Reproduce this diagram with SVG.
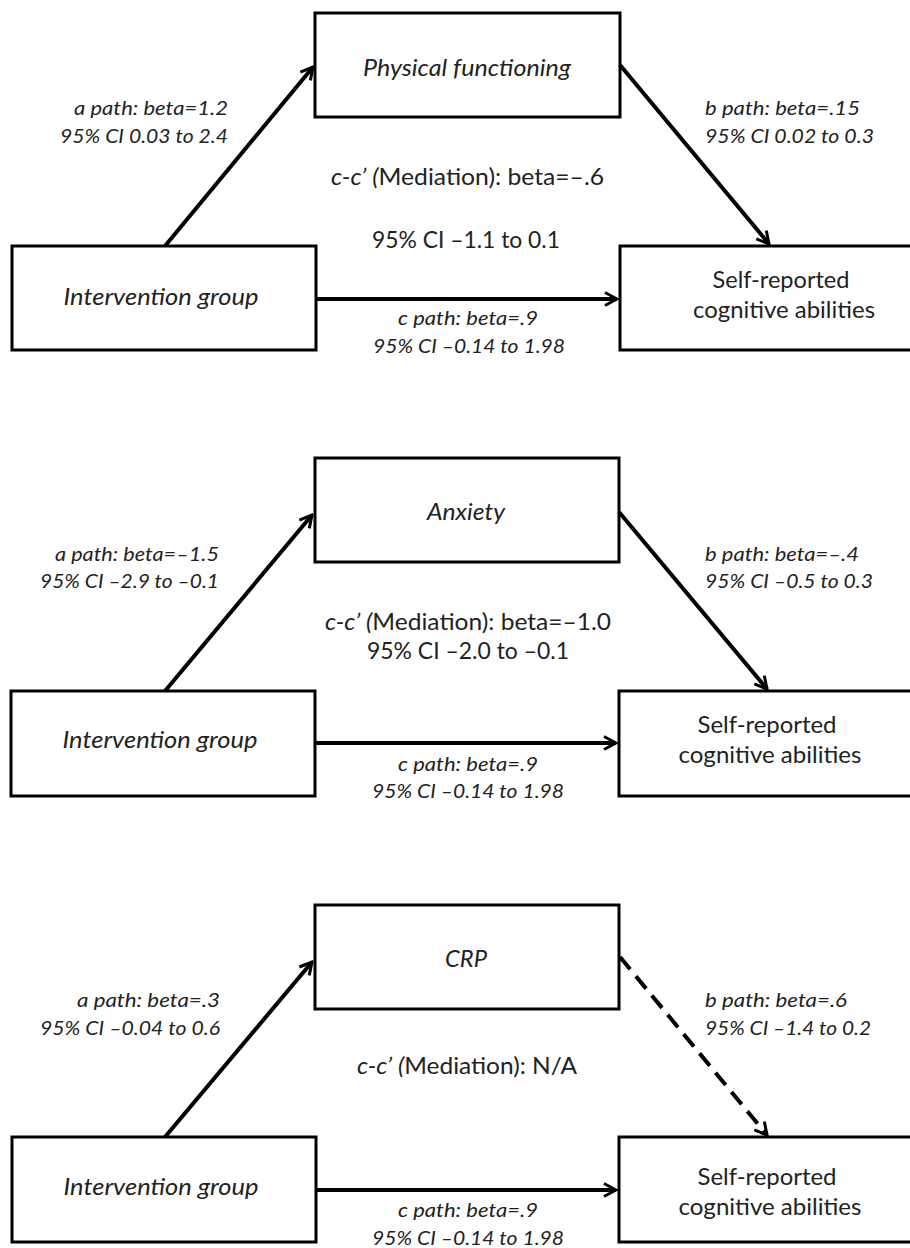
<svg xmlns="http://www.w3.org/2000/svg" width="910" height="1248" viewBox="0 0 910 1248">
<style>
  .box{fill:#fff;stroke:#000;stroke-width:3}
  .edge{stroke:#000;stroke-width:4;fill:none}
  .dash{stroke-dasharray:16 9}
  .lbl{font-family:Lato,"Open Sans","Liberation Sans",sans-serif;font-style:italic;font-size:19px;fill:#222}
  .big{font-family:Lato,"Open Sans","Liberation Sans",sans-serif;font-size:23px;fill:#222}
  .it{font-style:italic}
  .mid{text-anchor:middle}
</style>
<defs>
  <marker id="arr" viewBox="0 0 16 16" refX="14" refY="8" markerWidth="16" markerHeight="16" orient="auto" markerUnits="userSpaceOnUse">
    <path d="M2,1.5 L14,8 L2,14.5" fill="none" stroke="#000" stroke-width="3"/>
  </marker>
</defs>
<rect width="910" height="1248" fill="#fff"/>

<!-- Panel 1 -->
<g id="p1-mediator">
  <rect class="box" x="315" y="13" width="305" height="104"/>
  <text class="big it mid" x="467" y="76" textLength="208" lengthAdjust="spacingAndGlyphs">Physical functioning</text>
</g>
<g id="p1-intervention">
  <rect class="box" x="12" y="246" width="304" height="104"/>
  <text class="big it mid" x="161" y="305" textLength="195" lengthAdjust="spacingAndGlyphs">Intervention group</text>
</g>
<g id="p1-outcome">
  <rect class="box" x="620" y="246" width="330" height="104"/>
  <text class="big mid" x="781" y="288" textLength="137" lengthAdjust="spacingAndGlyphs">Self-reported</text>
  <text class="big mid" x="784" y="318" textLength="182" lengthAdjust="spacingAndGlyphs">cognitive abilities</text>
</g>
<g id="p1-connectors">
  <line class="edge" x1="165" y1="246" x2="313" y2="67" marker-end="url(#arr)"/>
  <line class="edge" x1="620" y1="65" x2="769" y2="244" marker-end="url(#arr)"/>
  <line class="edge" x1="316" y1="299" x2="617" y2="299" marker-end="url(#arr)"/>
</g>
<g id="p1-labels">
  <text class="lbl" x="74" y="115" textLength="154" lengthAdjust="spacingAndGlyphs">a path: beta=1.2</text>
  <text class="lbl" x="60" y="143" textLength="168" lengthAdjust="spacingAndGlyphs">95% CI 0.03 to 2.4</text>
  <text class="lbl" x="705" y="115" textLength="155" lengthAdjust="spacingAndGlyphs">b path: beta=.15</text>
  <text class="lbl" x="705" y="143" textLength="169" lengthAdjust="spacingAndGlyphs">95% CI 0.02 to 0.3</text>
  <text class="big" x="331" y="185" textLength="273" lengthAdjust="spacingAndGlyphs"><tspan class="it">c-c’ (</tspan>Mediation): beta=–.6</text>
  <text class="big" x="372" y="248" textLength="188" lengthAdjust="spacingAndGlyphs">95% CI –1.1 to 0.1</text>
  <text class="lbl" x="398" y="325" textLength="140" lengthAdjust="spacingAndGlyphs">c path: beta=.9</text>
  <text class="lbl" x="373" y="353" textLength="192" lengthAdjust="spacingAndGlyphs">95% CI –0.14 to 1.98</text>
</g>

<!-- Panel 2 -->
<g id="p2-mediator">
  <rect class="box" x="315" y="458" width="304" height="104"/>
  <text class="big it mid" x="466" y="520" textLength="78" lengthAdjust="spacingAndGlyphs">Anxiety</text>
</g>
<g id="p2-intervention">
  <rect class="box" x="11" y="691" width="304" height="105"/>
  <text class="big it mid" x="160" y="748" textLength="195" lengthAdjust="spacingAndGlyphs">Intervention group</text>
</g>
<g id="p2-outcome">
  <rect class="box" x="619" y="691" width="330" height="105"/>
  <text class="big mid" x="767" y="733" textLength="139" lengthAdjust="spacingAndGlyphs">Self-reported</text>
  <text class="big mid" x="770" y="763" textLength="183" lengthAdjust="spacingAndGlyphs">cognitive abilities</text>
</g>
<g id="p2-connectors">
  <line class="edge" x1="165" y1="691" x2="312" y2="515" marker-end="url(#arr)"/>
  <line class="edge" x1="619" y1="512" x2="767" y2="689" marker-end="url(#arr)"/>
  <line class="edge" x1="315" y1="743" x2="616" y2="743" marker-end="url(#arr)"/>
</g>
<g id="p2-labels">
  <text class="lbl" x="55" y="561" textLength="164" lengthAdjust="spacingAndGlyphs">a path: beta=–1.5</text>
  <text class="lbl" x="40" y="588" textLength="179" lengthAdjust="spacingAndGlyphs">95% CI –2.9 to –0.1</text>
  <text class="lbl" x="705" y="561" textLength="154" lengthAdjust="spacingAndGlyphs">b path: beta=–.4</text>
  <text class="lbl" x="705" y="588" textLength="168" lengthAdjust="spacingAndGlyphs">95% CI –0.5 to 0.3</text>
  <text class="big" x="325" y="630" textLength="286" lengthAdjust="spacingAndGlyphs"><tspan class="it">c-c’ (</tspan>Mediation): beta=–1.0</text>
  <text class="big" x="367" y="659" textLength="202" lengthAdjust="spacingAndGlyphs">95% CI –2.0 to –0.1</text>
  <text class="lbl" x="398" y="771" textLength="140" lengthAdjust="spacingAndGlyphs">c path: beta=.9</text>
  <text class="lbl" x="372" y="798" textLength="192" lengthAdjust="spacingAndGlyphs">95% CI –0.14 to 1.98</text>
</g>

<!-- Panel 3 -->
<g id="p3-mediator">
  <rect class="box" x="315" y="905" width="304" height="104"/>
  <text class="big it mid" x="466" y="967" textLength="42" lengthAdjust="spacingAndGlyphs">CRP</text>
</g>
<g id="p3-intervention">
  <rect class="box" x="12" y="1137" width="304" height="105"/>
  <text class="big it mid" x="161" y="1195" textLength="195" lengthAdjust="spacingAndGlyphs">Intervention group</text>
</g>
<g id="p3-outcome">
  <rect class="box" x="619" y="1137" width="330" height="105"/>
  <text class="big mid" x="767" y="1185" textLength="139" lengthAdjust="spacingAndGlyphs">Self-reported</text>
  <text class="big mid" x="770" y="1215" textLength="183" lengthAdjust="spacingAndGlyphs">cognitive abilities</text>
</g>
<g id="p3-connectors">
  <line class="edge" x1="165" y1="1137" x2="312" y2="962" marker-end="url(#arr)"/>
  <line class="edge dash" x1="620" y1="957" x2="767" y2="1135" marker-end="url(#arr)"/>
  <line class="edge" x1="316" y1="1190" x2="616" y2="1190" marker-end="url(#arr)"/>
</g>
<g id="p3-labels">
  <text class="lbl" x="77" y="1007" textLength="143" lengthAdjust="spacingAndGlyphs">a path: beta=.3</text>
  <text class="lbl" x="40" y="1035" textLength="180" lengthAdjust="spacingAndGlyphs">95% CI –0.04 to 0.6</text>
  <text class="lbl" x="705" y="1007" textLength="142" lengthAdjust="spacingAndGlyphs">b path: beta=.6</text>
  <text class="lbl" x="705" y="1035" textLength="166" lengthAdjust="spacingAndGlyphs">95% CI –1.4 to 0.2</text>
  <text class="big" x="357" y="1074" textLength="220" lengthAdjust="spacingAndGlyphs"><tspan class="it">c-c’ (</tspan>Mediation): N/A</text>
  <text class="lbl" x="398" y="1217" textLength="140" lengthAdjust="spacingAndGlyphs">c path: beta=.9</text>
  <text class="lbl" x="372" y="1245" textLength="192" lengthAdjust="spacingAndGlyphs">95% CI –0.14 to 1.98</text>
</g>
</svg>
